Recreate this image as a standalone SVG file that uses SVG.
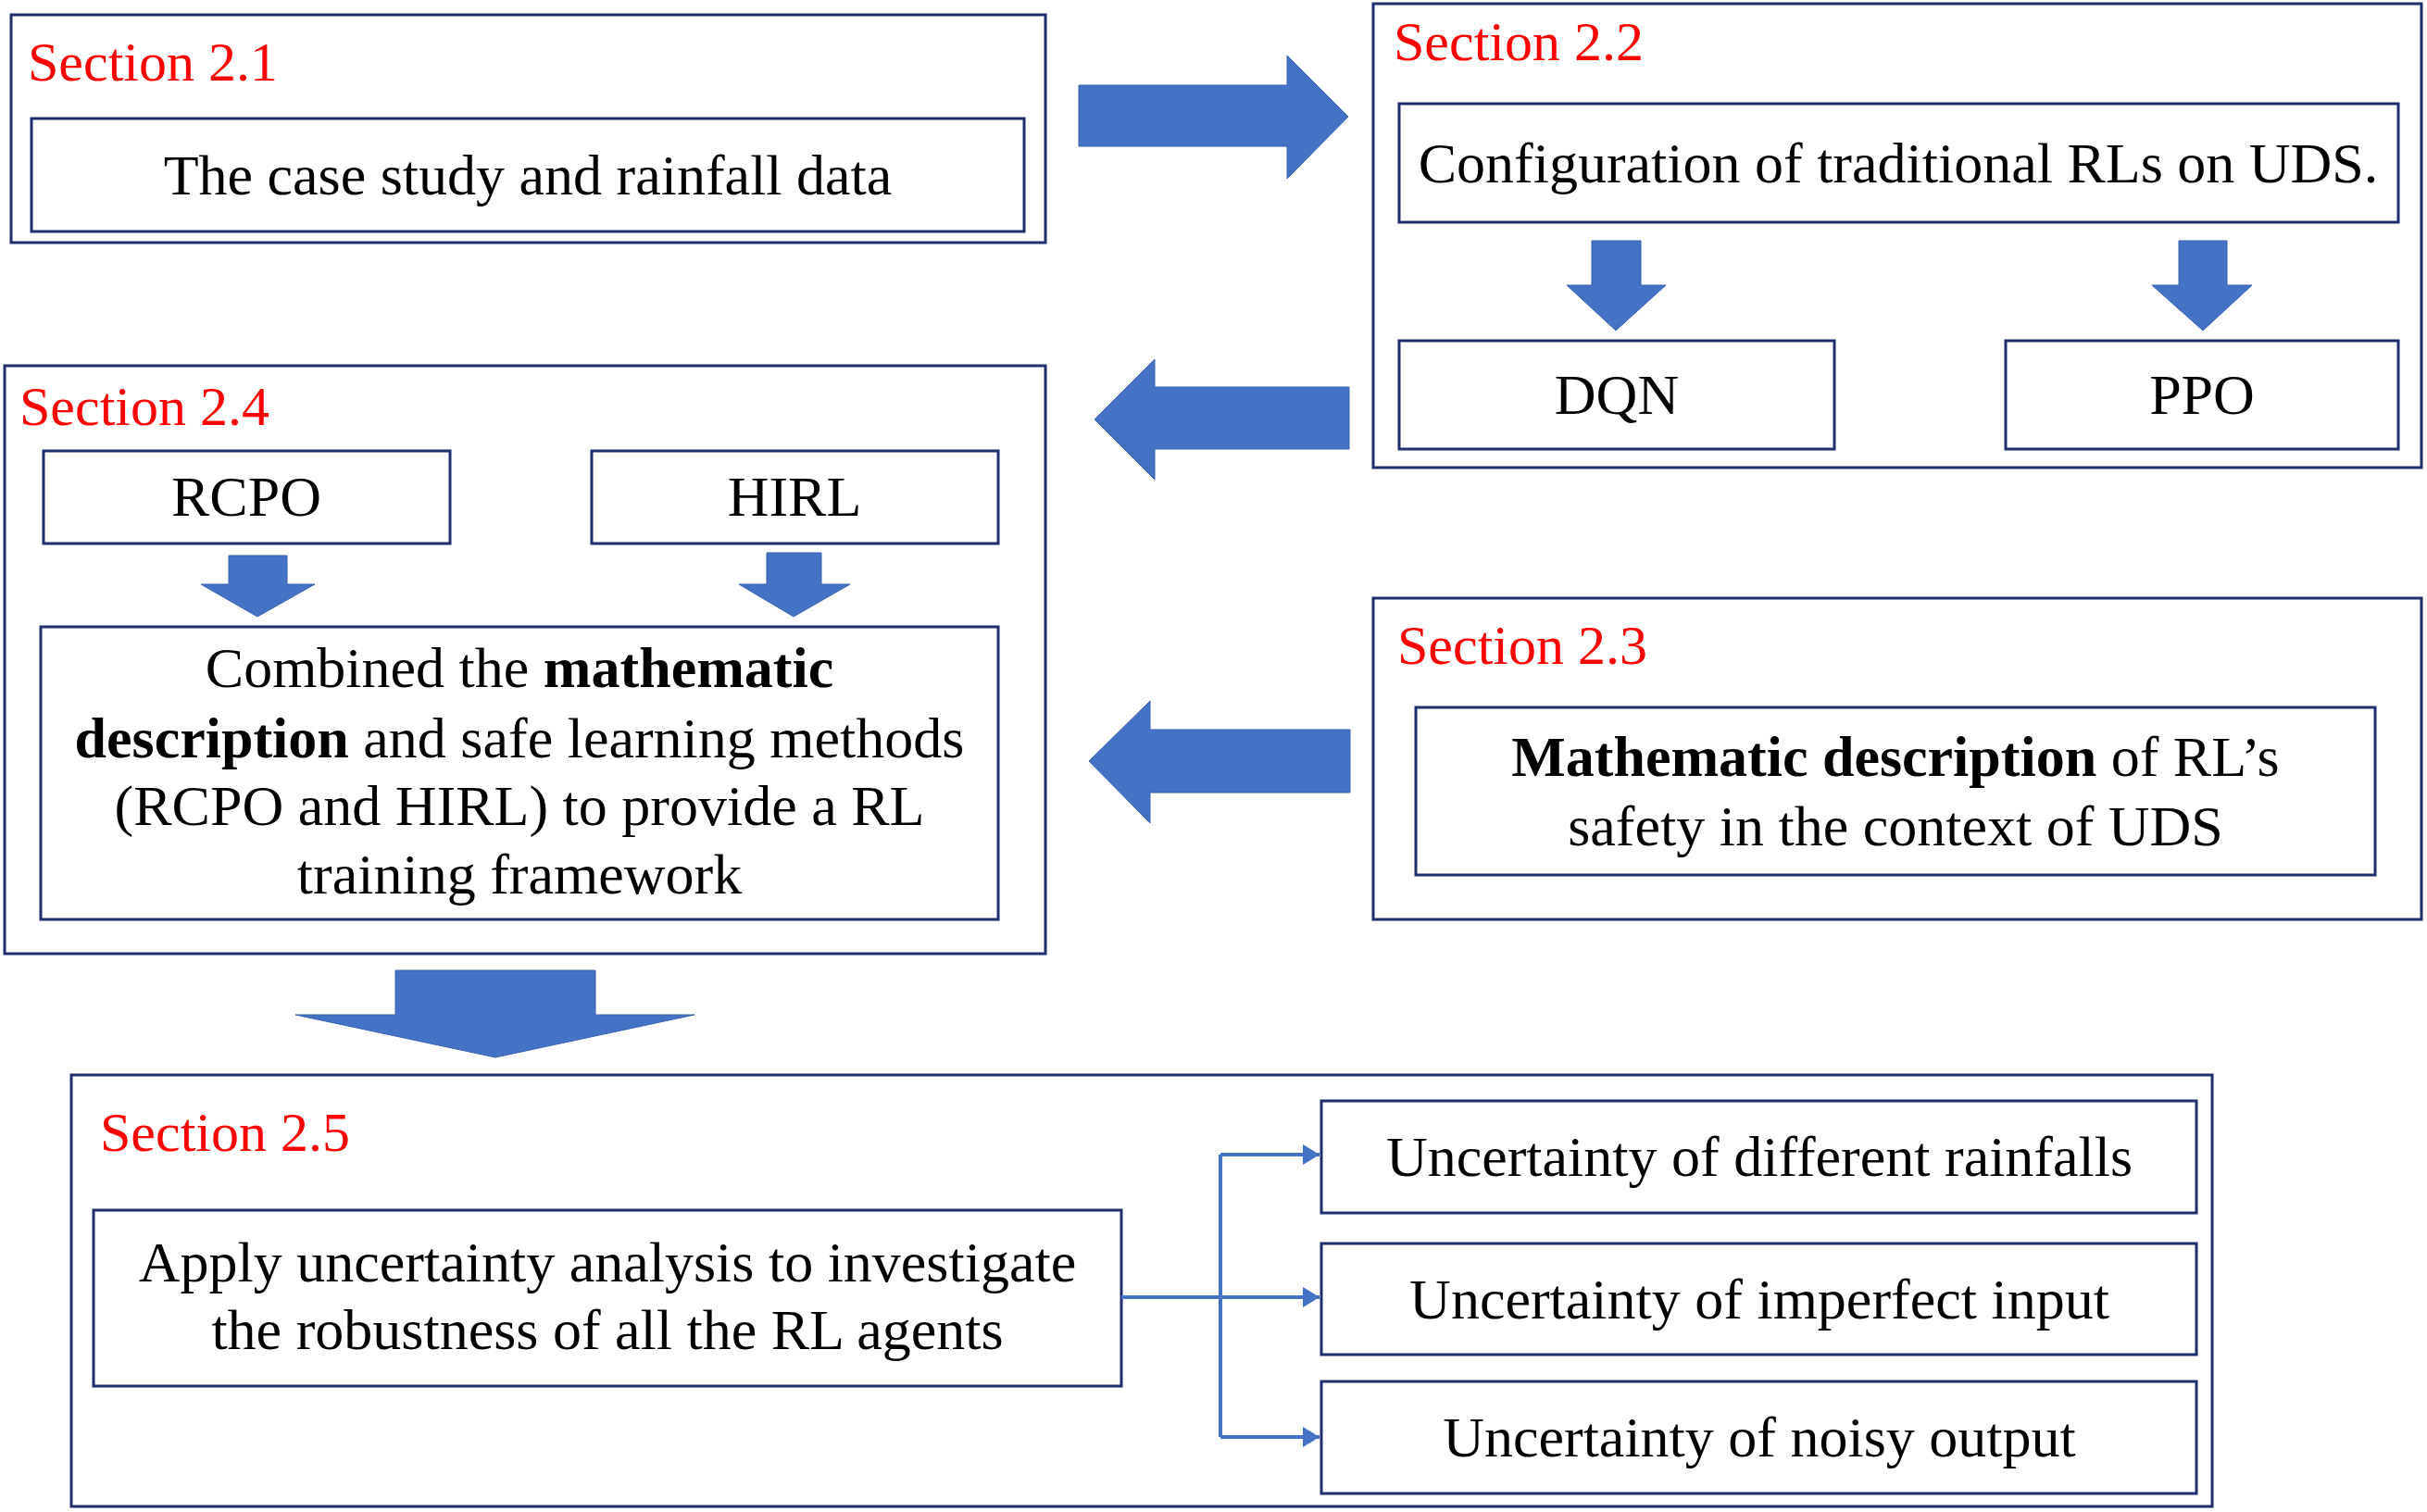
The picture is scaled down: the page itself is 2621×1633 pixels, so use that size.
<svg xmlns="http://www.w3.org/2000/svg" width="2621" height="1633" viewBox="0 0 2621 1633">
<style>
.box{fill:#ffffff;stroke:#1f2f6e;stroke-width:3}
.sec{font-family:"Liberation Serif","Times New Roman",serif;font-size:60px;fill:#ff0000}
.t{font-family:"Liberation Serif","Times New Roman",serif;font-size:62px;fill:#000000;text-anchor:middle}
.b{font-weight:bold}
.blk{fill:#4472c4;stroke:#3a63b0;stroke-width:1}
.con{fill:none;stroke:#4472c4;stroke-width:4}
</style>
<defs>
<marker id="ah" markerUnits="userSpaceOnUse" markerWidth="20" markerHeight="22" refX="18" refY="11" orient="auto">
<polygon points="0,0 18,11 0,22" fill="#4472c4"/>
</marker>
</defs>
<rect width="2621" height="1633" fill="#ffffff"/>

<g id="section21">
<rect class="box" x="12" y="16" width="1117" height="246"/>
<text class="sec" x="30" y="87">Section 2.1</text>
<g id="case-study">
<rect class="box" x="34" y="128" width="1072" height="122"/>
<text class="t" x="570" y="210">The case study and rainfall data</text>
</g>
</g>

<g id="section22">
<rect class="box" x="1483" y="4" width="1132" height="501"/>
<text class="sec" x="1505" y="65">Section 2.2</text>
<g id="config">
<rect class="box" x="1511" y="112" width="1079" height="128"/>
<text class="t" x="2050" y="197">Configuration of traditional RLs on UDS.</text>
</g>
<g id="dqn">
<rect class="box" x="1511" y="368" width="470" height="117"/>
<text class="t" x="1746" y="447">DQN</text>
</g>
<g id="ppo">
<rect class="box" x="2166" y="368" width="424" height="117"/>
<text class="t" x="2378" y="447">PPO</text>
</g>
</g>

<g id="section23">
<rect class="box" x="1483" y="646" width="1132" height="347"/>
<text class="sec" x="1509" y="717">Section 2.3</text>
<g id="math-desc">
<rect class="box" x="1529" y="764" width="1036" height="181"/>
<text class="t" x="2047" y="838"><tspan class="b">Mathematic description</tspan> of RL’s</text>
<text class="t" x="2047" y="913">safety in the context of UDS</text>
</g>
</g>

<g id="section24">
<rect class="box" x="5" y="395" width="1124" height="635"/>
<text class="sec" x="21" y="459">Section 2.4</text>
<g id="rcpo">
<rect class="box" x="47" y="487" width="439" height="100"/>
<text class="t" x="266" y="557">RCPO</text>
</g>
<g id="hirl">
<rect class="box" x="639" y="487" width="439" height="100"/>
<text class="t" x="858" y="557">HIRL</text>
</g>
<g id="combined">
<rect class="box" x="44" y="677" width="1034" height="316"/>
<text class="t" x="561" y="742">Combined the <tspan class="b">mathematic</tspan></text>
<text class="t" x="561" y="818"><tspan class="b">description</tspan> and safe learning methods</text>
<text class="t" x="561" y="891">(RCPO and HIRL) to provide a RL</text>
<text class="t" x="561" y="965">training framework</text>
</g>
</g>

<g id="section25">
<rect class="box" x="77" y="1161" width="2312" height="466"/>
<text class="sec" x="108" y="1243">Section 2.5</text>
<g id="apply">
<rect class="box" x="101" y="1307" width="1110" height="190"/>
<text class="t" x="656" y="1384">Apply uncertainty analysis to investigate</text>
<text class="t" x="656" y="1457">the robustness of all the RL agents</text>
</g>
<g id="unc-rain">
<rect class="box" x="1427" y="1189" width="945" height="121"/>
<text class="t" x="1900" y="1270">Uncertainty of different rainfalls</text>
</g>
<g id="unc-input">
<rect class="box" x="1427" y="1343" width="945" height="120"/>
<text class="t" x="1900" y="1424">Uncertainty of imperfect input</text>
</g>
<g id="unc-output">
<rect class="box" x="1427" y="1492" width="945" height="121"/>
<text class="t" x="1900" y="1573">Uncertainty of noisy output</text>
</g>
</g>

<g id="connectors">
<polygon class="blk" points="1165,92 1390,92 1390,60 1456,126 1390,193 1390,158 1165,158"/>
<polygon class="blk" points="1457,418 1247,418 1247,388 1182,453 1247,518 1247,485 1457,485"/>
<polygon class="blk" points="1458,788 1242,788 1242,757 1176,822 1242,889 1242,856 1458,856"/>
<polygon class="blk" points="1719,260 1772,260 1772,308 1799,308 1745,357 1692,308 1719,308"/>
<polygon class="blk" points="2353,260 2405,260 2405,308 2432,308 2379,357 2324,308 2353,308"/>
<polygon class="blk" points="247,600 310,600 310,631 340,631 278,666 217,631 247,631"/>
<polygon class="blk" points="828,597 887,597 887,631 918,631 857,666 798,631 828,631"/>
<polygon class="blk" points="427,1048 643,1048 643,1096 750,1096 535,1142 319,1096 427,1096"/>
<path class="con" d="M1211,1401 H1318 M1318,1247 V1552"/>
<path class="con" d="M1318,1247 H1425" marker-end="url(#ah)"/>
<path class="con" d="M1318,1401 H1425" marker-end="url(#ah)"/>
<path class="con" d="M1318,1552 H1425" marker-end="url(#ah)"/>
</g>
</svg>
